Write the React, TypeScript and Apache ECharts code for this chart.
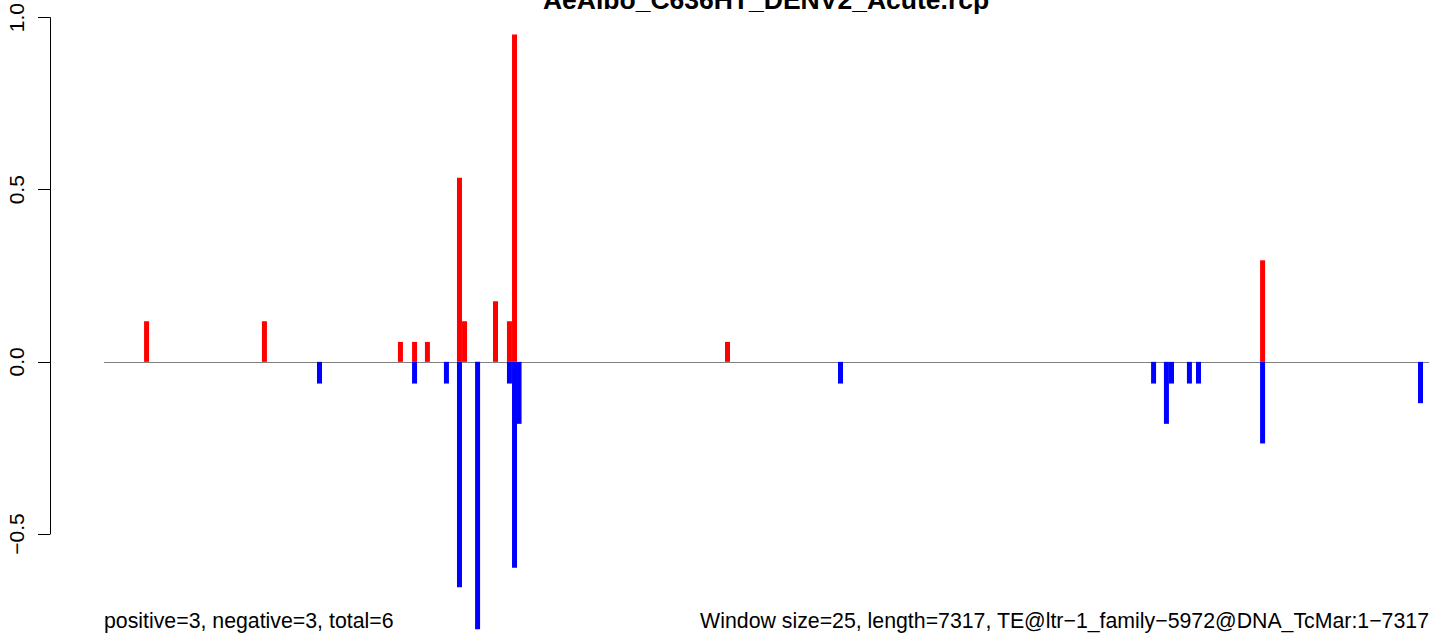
import React, { useEffect, useRef } from "react";
import * as echarts from "echarts";

// Positions (bp along the 7317 bp element) and values of the positive (red) bars
const posX = [235, 886, 1637, 1715, 1786, 1963, 1991, 2162, 2239, 2267, 3443, 6398];
const posY = [0.118, 0.118, 0.058, 0.058, 0.058, 0.535, 0.118, 0.176, 0.118, 0.951, 0.058, 0.295];

// Positions and values of the negative (blue) bars
const negX = [1190, 1715, 1891, 1963, 2063, 2239, 2267, 2292, 4067, 5796, 5867, 5895, 5994, 6044, 6398, 7270];
const negY = [-0.063, -0.063, -0.063, -0.655, -0.777, -0.063, -0.598, -0.18, -0.063, -0.063, -0.18, -0.063, -0.063, -0.063, -0.237, -0.12];

const yTicks = [-0.5, 0, 0.5, 1.0];
const seqLength = 7317;

const titleText = "AeAlbo_C636HT_DENV2_Acute.rcp";
const leftNote = "positive=3, negative=3, total=6";
const rightNote = "Window size=25, length=7317, TE@ltr\u22121_family\u22125972@DNA_TcMar:1\u22127317";

const FONT = "'Liberation Sans', Arial, Helvetica, sans-serif";

function barRenderer(color: string) {
  return (params: any, api: any) => {
    const x = api.value(0);
    const y = api.value(1);
    const p0 = api.coord([x, 0]);
    const p1 = api.coord([x, y]);
    const w = 5;
    return {
      type: "rect",
      shape: {
        x: p0[0] - w / 2,
        y: Math.min(p0[1], p1[1]),
        width: w,
        height: Math.abs(p1[1] - p0[1]),
      },
      style: { fill: color },
    };
  };
}

export default function App() {
  const ref = useRef<HTMLDivElement>(null);

  useEffect(() => {
    if (!ref.current) return;
    const chart = echarts.init(ref.current, null, { renderer: "svg" });
    const fmt = (v: number) => (v < 0 ? "\u2212" + Math.abs(v).toFixed(1) : v.toFixed(1));
    chart.setOption({
      animation: false,
      backgroundColor: "#ffffff",
      grid: { left: 104, right: 0, top: 15, bottom: 100, containLabel: false },
      xAxis: {
        type: "value",
        min: 0,
        max: seqLength,
        show: false,
        axisLine: { onZero: false },
      },
      yAxis: {
        type: "value",
        min: yTicks[0],
        max: yTicks[yTicks.length - 1],
        interval: 0.5,
        position: "left",
        offset: 54,
        splitLine: { show: false },
        axisLine: { show: true, onZero: false, lineStyle: { color: "#000", width: 1 } },
        axisTick: { show: true, length: 12, lineStyle: { color: "#000", width: 1 } },
        axisLabel: {
          rotate: 90,
          margin: 34,
          fontSize: 21,
          fontFamily: FONT,
          color: "#000",
          align: "center",
          verticalAlign: "middle",
          formatter: (v: number) => fmt(v),
        },
      },
      series: [
        {
          type: "custom",
          name: "positive",
          clip: false,
          renderItem: barRenderer("#ff0000"),
          data: posX.map((x, i) => [x, posY[i]]),
          z: 2,
          markLine: {
            silent: true,
            symbol: "none",
            label: { show: false },
            lineStyle: { color: "#808080", width: 1, type: "solid" },
            data: [{ yAxis: 0 }],
            z: 1,
          },
        },
        {
          type: "custom",
          name: "negative",
          clip: false,
          renderItem: barRenderer("#0000ff"),
          data: negX.map((x, i) => [x, negY[i]]),
          z: 3,
        },
      ],
      graphic: [
        {
          type: "text",
          x: 766,
          y: -0.5,
          style: {
            text: titleText,
            font: `bold 26.5px ${FONT}`,
            fill: "#000",
            textAlign: "center",
            textVerticalAlign: "middle",
          },
        },
        {
          type: "text",
          x: 104,
          y: 621,
          style: {
            text: leftNote,
            font: `21.3px ${FONT}`,
            fill: "#000",
            textAlign: "left",
            textVerticalAlign: "middle",
          },
        },
        {
          type: "text",
          x: 1429,
          y: 621,
          style: {
            text: rightNote,
            font: `21.3px ${FONT}`,
            fill: "#000",
            textAlign: "right",
            textVerticalAlign: "middle",
          },
        },
      ],
    });
    return () => chart.dispose();
  }, []);

  return (
    <div
      ref={ref}
      style={{ position: "fixed", left: 0, top: 0, width: 1429, height: 634, background: "#fff" }}
    />
  );
}
